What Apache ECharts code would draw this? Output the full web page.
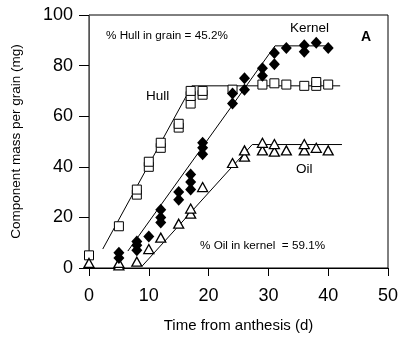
<!DOCTYPE html>
<html>
<head>
<meta charset="utf-8">
<script src="https://cdn.jsdelivr.net/npm/echarts@6/dist/echarts.min.js"></script>
<style>html,body{margin:0;padding:0;background:#fff}#c{width:402px;height:338px}</style>
</head>
<body>
<div id="c"></div>
<script>
var hullDays = [0,5,8,8,10,10,12,12,15,15,17,17,17,19,19,24,29,31,33,36,38,38,40];
var hullMass = [5,16.5,29,31,40,42,47.5,49.5,55.5,57,65,68,70,68.5,70,70.5,72.5,73,72.5,72,72,73.5,72.5];
var kernelDays = [5,5,8,8,8,10,12,12,12,15,15,17,17,17,19,19,19,24,24,26,26,29,29,31,31,33,36,36,38,40];
var kernelMass = [4,6,7,9,10.5,12.5,18,20,23,27,30,31,34,37,45,47.5,49.5,65,69,70.5,75,76,79,80.5,85,87,88,85.5,89,87];
var oilDays = [0,5,5,8,10,12,15,17,17,19,24,26,26,29,29,31,31,33,36,36,38,40];
var oilMass = [2,1,2,2.5,7.5,12,17.5,21.5,23.5,32,41.5,44,46.5,46.5,49.5,46,49,46.5,46.5,49,47.5,46.5];
var hullFitX = [2.3,17.2,42], hullFitY = [7.5,72,72];
var kernelFitX = [6.5,31.1,40.5], kernelFitY = [6.7,87.8,87.8];
var oilFitX = [8.9,27.3,42.3], oilFitY = [0.8,48.8,48.8];
var xTicks = [0,10,20,30,40,50];
var yTicks = [0,20,40,60,80,100];

function pairs(xs, ys){ return xs.map(function(x,i){ return [x, ys[i]]; }); }
var F = 'Liberation Sans, Arial, sans-serif';
var chart = echarts.init(document.getElementById('c'));
function fit(xs, ys){
  return {type:'line', data:pairs(xs,ys), symbol:'none', lineStyle:{color:'#000', width:1}, z:1, silent:true};
}
chart.setOption({
  animation:false,
  grid:{left:89, right:14, top:15, bottom:69, show:true, borderColor:'#000', borderWidth:1},
  xAxis:{type:'value', min:0, max:50, interval:10,
    name:'Time from anthesis (d)', nameLocation:'middle', nameGap:50,
    nameTextStyle:{fontFamily:F, fontSize:15, color:'#000'},
    axisLine:{show:true, onZero:false, lineStyle:{color:'#000'}},
    axisTick:{show:true, inside:false, length:8, lineStyle:{color:'#000'}},
    axisLabel:{fontFamily:F, fontSize:18, color:'#000', margin:19},
    splitLine:{show:false}},
  yAxis:{type:'value', min:0, max:100, interval:20,
    name:'Component mass per grain (mg)', nameLocation:'middle', nameGap:66, nameRotate:90,
    nameTextStyle:{fontFamily:F, fontSize:13.5, color:'#000'},
    axisLine:{show:true, lineStyle:{color:'#555'}},
    axisTick:{show:true, inside:false, length:10, lineStyle:{color:'#000'}},
    axisLabel:{fontFamily:F, fontSize:18, color:'#000', margin:16},
    splitLine:{show:false}},
  series:[
    fit(hullFitX, hullFitY), fit(kernelFitX, kernelFitY), fit(oilFitX, oilFitY),
    {type:'scatter', name:'Hull', data:pairs(hullDays,hullMass), symbol:'rect', symbolSize:[9,9],
      itemStyle:{color:'#fff', borderColor:'#000', borderWidth:1, opacity:1}, z:3},
    {type:'scatter', name:'Kernel', data:pairs(kernelDays,kernelMass), symbol:'diamond', symbolSize:[11,12],
      itemStyle:{color:'#000', opacity:1}, z:4},
    {type:'scatter', name:'Oil', data:pairs(oilDays,oilMass), symbol:'triangle', symbolSize:[10,9],
      itemStyle:{color:'#fff', borderColor:'#000', borderWidth:1.3, opacity:1}, z:3}
  ],
  graphic:[
    {type:'text', left:106, top:30, style:{text:'% Hull in grain = 45.2%', font:'11.7px '+F, fill:'#000'}},
    {type:'text', left:290, top:21, style:{text:'Kernel', font:'13.5px '+F, fill:'#000'}},
    {type:'text', left:361, top:30, style:{text:'A', font:'bold 14px '+F, fill:'#000'}},
    {type:'text', left:146, top:89, style:{text:'Hull', font:'13.5px '+F, fill:'#000'}},
    {type:'text', left:296, top:162, style:{text:'Oil', font:'13.5px '+F, fill:'#000'}},
    {type:'text', left:200, top:240, style:{text:'% Oil in kernel  = 59.1%', font:'11.7px '+F, fill:'#000'}}
  ]
});
</script>
</body>
</html>
